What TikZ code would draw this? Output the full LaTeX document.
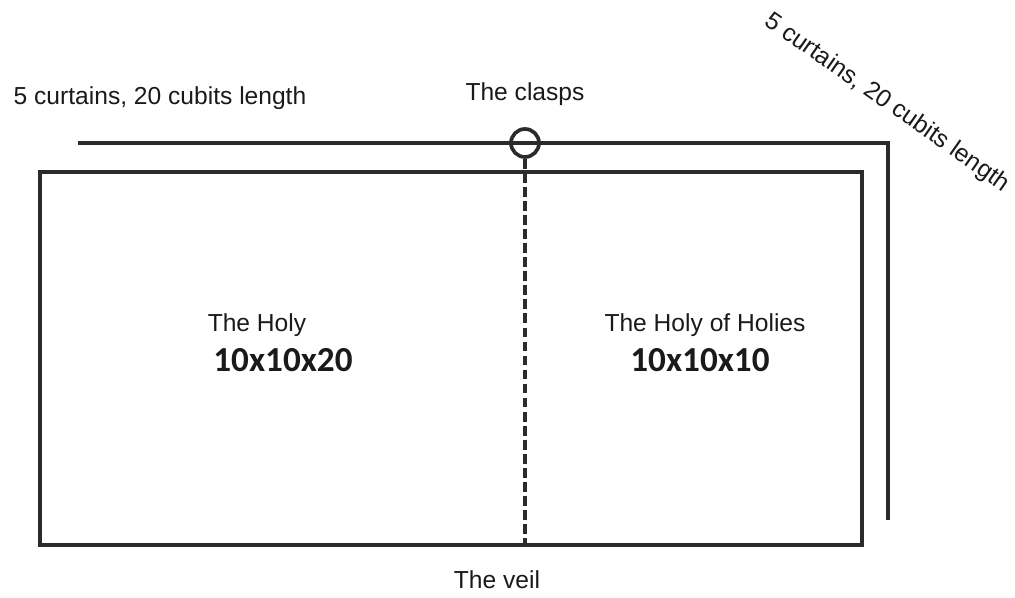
\documentclass[tikz,border=0pt]{standalone}
\usepackage{fontspec}
\setmainfont{Liberation Sans}
\newfontfamily\numfont{Carlito}
\usepackage{tikz}
\usetikzlibrary{calc}
\definecolor{wallgray}{HTML}{2B2B2B}
\definecolor{labelblack}{HTML}{1A1A1A}

\begin{document}
\begin{tikzpicture}[x=0.02cm, y=-0.02cm,
    every node/.style={inner sep=0pt, font=\fontsize{14}{16}\selectfont, text=labelblack},
    wall/.style={wallgray, line width=2.1pt},
    dims/.style={font=\numfont\bfseries\fontsize{20}{22}\selectfont}
]
\useasboundingbox (0,0) rectangle (1015,598);
% the tent and the curtains over it
\draw[wall] (40,172) rectangle (862,545);
\draw[wall] (78,143) -- (888,143) -- (888,520);
\node[draw=wallgray, line width=2.1pt, circle, minimum size=0.56cm] (clasp) at (525,143) {};
\coordinate (veilend) at (525,545);
\draw[wall, dash pattern=on 5.5pt off 2.5pt] (clasp.south) -- (veilend);
% labels
\node (curtainsA) at (160,98) {5 curtains, 20 cubits length};
\node[rotate=-35] (curtainsB) at (887,103) {5 curtains, 20 cubits length};
\node (clasplabel) at (525,94) {The clasps};
\node (holy) at (257,325) {The Holy};
\node[dims] (holydim) at (283,360) {10x10x20};
\node (holiest) at (705,325) {The Holy of Holies};
\node[dims] (holiestdim) at (700,360) {10x10x10};
\node (veil) at (497,580) {The veil};
\end{tikzpicture}
\end{document}
